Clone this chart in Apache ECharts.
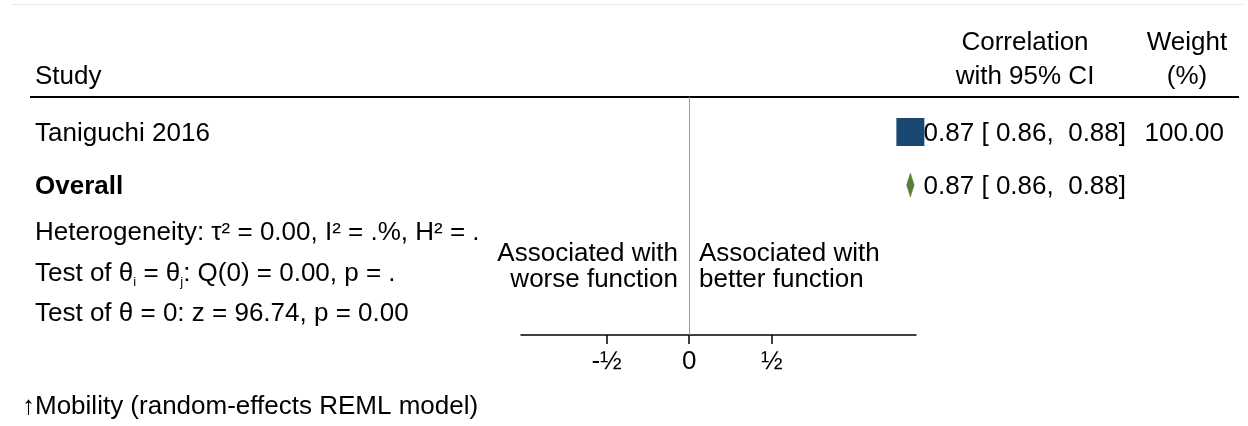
<!DOCTYPE html>
<html>
<head>
<meta charset="utf-8">
<style>
  html, body { margin: 0; padding: 0; background: #ffffff; }
  #chart { width: 1248px; height: 426px; }
</style>
<script src="https://cdn.jsdelivr.net/npm/echarts@6/dist/echarts.min.js"></script>
</head>
<body>
<div id="chart"></div>
<script>
// ---- data (Fisher-z scale for plotted positions) ----
const studies = ['Taniguchi 2016'];
const studyEst = [1.338];
const studyLo = [1.315];
const studyHi = [1.361];
const studyWeight = [100];
const studyCiText = ['0.87 [ 0.86,  0.88]'];
const studyWeightText = ['100.00'];

const overallLabel = 'Overall';
const overallEst = 1.338;
const overallLo = 1.315;
const overallHi = 1.361;
const overallCiText = '0.87 [ 0.86,  0.88]';

const heteroLines = [
  'Heterogeneity: τ² = 0.00, I² = .%, H² = .',
  'Test of θ{s|i} = θ{s|j}: Q(0) = 0.00, p = .',
  'Test of θ = 0: z = 96.74, p = 0.00'
];
const headers = { study: 'Study', ci: ['Correlation', 'with 95% CI'], weight: ['Weight', '(%)'] };
const leftFavours = ['Associated with', 'worse function'];
const rightFavours = ['Associated with', 'better function'];
const footnote = '↑Mobility (random-effects REML model)';

const xTicks = [-0.5, 0, 0.5];
const xTickLabels = ['-½', '0', '½'];

// ---- styling / layout ----
const FONT = '"Liberation Sans", Arial, Helvetica, sans-serif';
const FS = 26;
const SQUARE_COLOR = '#1a476f';
const DIAMOND_COLOR = '#5a7f36';
const DY = 2; // text vertical nudge

const chart = echarts.init(document.getElementById('chart'), null, { renderer: 'canvas' });

const gridLeft = 521, gridRight = 916, gridTop = 97, gridBottom = 335;
const rowPx = 53;
const firstRowPx = 132;
const yMin = -(firstRowPx - gridTop) / rowPx;
const yMax = (gridBottom - firstRowPx) / rowPx;

const overallRow = studies.length;

function txt(x, y, text, align, extra) {
  return {
    type: 'text', x: x, y: y + DY, silent: true,
    style: Object.assign({
      text: text, x: 0, y: 0, fill: '#000', font: FS + 'px ' + FONT,
      align: align || 'left', verticalAlign: 'middle'
    }, extra || {})
  };
}

const graphics = [];
// top faint rule
graphics.push({ type: 'line', shape: { x1: 12, y1: 4.5, x2: 1243, y2: 4.5 }, style: { stroke: '#e6e6e6', lineWidth: 1 }, silent: true });
// header rule
graphics.push({ type: 'line', shape: { x1: 30, y1: 97, x2: 1239, y2: 97 }, style: { stroke: '#000', lineWidth: 2 }, silent: true });
// headers
graphics.push(txt(35, 75, headers.study));
graphics.push(txt(1025, 41, headers.ci[0], 'center'));
graphics.push(txt(1025, 75, headers.ci[1], 'center'));
graphics.push(txt(1187, 41, headers.weight[0], 'center'));
graphics.push(txt(1187, 75, headers.weight[1], 'center'));
// study rows
studies.forEach(function (s, i) {
  const y = firstRowPx + i * rowPx;
  graphics.push(txt(35, y, s));
  graphics.push(txt(1126, y, studyCiText[i], 'right'));
  graphics.push(txt(1224, y, studyWeightText[i], 'right'));
});
// overall row
const oy = firstRowPx + overallRow * rowPx;
graphics.push(txt(35, oy, overallLabel, 'left', { font: 'bold ' + FS + 'px ' + FONT }));
graphics.push(txt(1126, oy, overallCiText, 'right'));
// heterogeneity
const heteroY = [231, 272, 312];
heteroLines.forEach(function (l, i) {
  graphics.push({
    type: 'text', x: 35, y: heteroY[i] + DY, silent: true,
    style: {
      text: l, x: 0, y: 0, fill: '#000', fontSize: FS, fontFamily: FONT,
      align: 'left', verticalAlign: 'middle', lineHeight: 30,
      rich: {
        s: { fontSize: 13, fontFamily: FONT, lineHeight: 8, verticalAlign: 'bottom', fill: '#000' }
      }
    }
  });
});
// favours labels
graphics.push(txt(678, 252, leftFavours[0], 'right'));
graphics.push(txt(678, 278, leftFavours[1], 'right'));
graphics.push(txt(699, 252, rightFavours[0], 'left'));
graphics.push(txt(699, 278, rightFavours[1], 'left'));
// footnote
graphics.push(txt(22, 405, footnote));

const option = {
  animation: false,
  backgroundColor: '#ffffff',
  textStyle: { fontFamily: FONT },
  grid: { left: gridLeft, top: gridTop, width: gridRight - gridLeft, height: gridBottom - gridTop, containLabel: false },
  xAxis: {
    type: 'value', min: -1.018, max: 1.372,
    axisLine: { show: true, onZero: false, lineStyle: { color: '#000', width: 1.5 } },
    axisTick: { show: true, customValues: xTicks, length: 9, lineStyle: { color: '#000', width: 1.5 } },
    axisLabel: {
      show: true, customValues: xTicks, margin: 14, color: '#000', fontSize: FS, fontFamily: FONT,
      formatter: function (v) { const i = xTicks.indexOf(v); return i >= 0 ? xTickLabels[i] : ''; }
    },
    splitLine: { show: false }
  },
  yAxis: {
    type: 'value', inverse: true, min: yMin, max: yMax,
    show: false, splitLine: { show: false }
  },
  graphic: graphics,
  series: [
    {
      name: 'null', type: 'line', data: [], silent: true,
      markLine: {
        symbol: 'none', silent: true, label: { show: false },
        lineStyle: { color: '#9a9a9a', width: 1, type: 'solid' },
        data: [{ xAxis: 0 }]
      }
    },
    {
      name: 'ci', type: 'custom', silent: true,
      data: studies.map(function (s, i) { return [studyLo[i], studyHi[i], i]; }),
      renderItem: function (params, api) {
        const a = api.coord([api.value(0), api.value(2)]);
        const b = api.coord([api.value(1), api.value(2)]);
        return { type: 'line', shape: { x1: a[0], y1: a[1], x2: b[0], y2: b[1] }, style: { stroke: '#000', lineWidth: 1.5 } };
      }
    },
    {
      name: 'studies', type: 'scatter', silent: true, symbol: 'rect',
      data: studies.map(function (s, i) { return [studyEst[i], i, studyWeight[i]]; }),
      symbolSize: function (v) { return 28 * Math.sqrt(v[2] / 100); },
      itemStyle: { color: SQUARE_COLOR, opacity: 1 }
    },
    {
      name: 'overall', type: 'custom', silent: true,
      data: [[overallLo, overallEst, overallHi, overallRow]],
      renderItem: function (params, api) {
        const r = api.value(3);
        const l = api.coord([api.value(0), r]);
        const c = api.coord([api.value(1), r]);
        const h = api.coord([api.value(2), r]);
        const hh = 12;
        return {
          type: 'polygon',
          shape: { points: [[l[0], l[1]], [c[0], c[1] - hh], [h[0], h[1]], [c[0], c[1] + hh]] },
          style: { fill: DIAMOND_COLOR, stroke: DIAMOND_COLOR, lineWidth: 0.5 }
        };
      }
    }
  ]
};
chart.setOption(option);
</script>
</body>
</html>
